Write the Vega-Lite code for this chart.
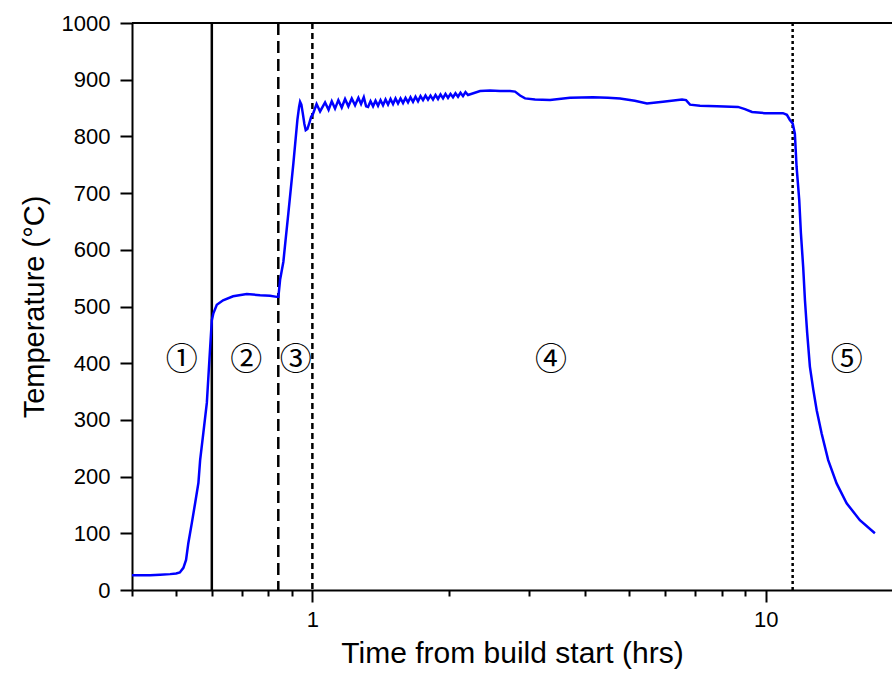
{
  "$schema": "https://vega.github.io/schema/vega-lite/v6.json",
  "width": 760,
  "height": 567,
  "autosize": {"type": "none"},
  "padding": {"left": 132, "top": 23, "right": 0, "bottom": 85},
  "background": "white",
  "config": {
    "view": {"stroke": null},
    "font": "Liberation Sans",
    "axis": {
      "domainColor": "black", "domainWidth": 2, "tickColor": "black", "tickWidth": 2,
      "labelColor": "black", "titleColor": "black", "labelFont": "Liberation Sans", "titleFont": "Liberation Sans",
      "labelFontSize": 22, "titleFontSize": 29, "titleFontWeight": "normal", "grid": false
    }
  },
  "datasets": {
    "temp": [
      {"t": 0.400, "temp": 26}, {"t": 0.4386, "temp": 26}, {"t": 0.4614, "temp": 27}, {"t": 0.4855, "temp": 28},
      {"t": 0.5005, "temp": 29}, {"t": 0.510, "temp": 31}, {"t": 0.5193, "temp": 39}, {"t": 0.5264, "temp": 53},
      {"t": 0.5326, "temp": 83}, {"t": 0.5420, "temp": 118}, {"t": 0.5512, "temp": 153}, {"t": 0.5605, "temp": 189},
      {"t": 0.5654, "temp": 229}, {"t": 0.5749, "temp": 278}, {"t": 0.585, "temp": 330}, {"t": 0.5927, "temp": 406},
      {"t": 0.600, "temp": 476}, {"t": 0.6048, "temp": 488}, {"t": 0.6154, "temp": 503}, {"t": 0.6353, "temp": 511},
      {"t": 0.6685, "temp": 518}, {"t": 0.7166, "temp": 522}, {"t": 0.7668, "temp": 520}, {"t": 0.8066, "temp": 519},
      {"t": 0.8346, "temp": 517}, {"t": 0.8414, "temp": 517}, {"t": 0.8487, "temp": 547}, {"t": 0.8630, "temp": 579},
      {"t": 0.8727, "temp": 617}, {"t": 0.8853, "temp": 665}, {"t": 0.9081, "temp": 753}, {"t": 0.9267, "temp": 829},
      {"t": 0.9347, "temp": 852}, {"t": 0.9394, "temp": 861}, {"t": 0.9456, "temp": 856}, {"t": 0.9523, "temp": 841},
      {"t": 0.9602, "temp": 822}, {"t": 0.9669, "temp": 811}, {"t": 0.9750, "temp": 813}, {"t": 0.9849, "temp": 824},
      {"t": 0.9934, "temp": 834}, {"t": 1.0036, "temp": 840},
      {"t": 1.0216, "temp": 857}, {"t": 1.0399, "temp": 844}, {"t": 1.0666, "temp": 860}, {"t": 1.0858, "temp": 847},
      {"t": 1.1035, "temp": 862}, {"t": 1.1220, "temp": 849}, {"t": 1.1410, "temp": 864}, {"t": 1.1609, "temp": 851},
      {"t": 1.1806, "temp": 866}, {"t": 1.2006, "temp": 853}, {"t": 1.2215, "temp": 867}, {"t": 1.2422, "temp": 855},
      {"t": 1.2632, "temp": 868}, {"t": 1.2806, "temp": 857}, {"t": 1.2985, "temp": 869}, {"t": 1.3138, "temp": 853},
      {"t": 1.3267, "temp": 852}, {"t": 1.3437, "temp": 862}, {"t": 1.3609, "temp": 853}, {"t": 1.3783, "temp": 863},
      {"t": 1.3959, "temp": 854}, {"t": 1.4137, "temp": 864}, {"t": 1.4318, "temp": 855}, {"t": 1.4501, "temp": 865},
      {"t": 1.4686, "temp": 856}, {"t": 1.4874, "temp": 866}, {"t": 1.5064, "temp": 857}, {"t": 1.5256, "temp": 867},
      {"t": 1.5451, "temp": 858}, {"t": 1.5648, "temp": 867}, {"t": 1.5848, "temp": 859}, {"t": 1.6051, "temp": 868},
      {"t": 1.6256, "temp": 860}, {"t": 1.6463, "temp": 869}, {"t": 1.6674, "temp": 861}, {"t": 1.6887, "temp": 870},
      {"t": 1.7103, "temp": 862}, {"t": 1.7321, "temp": 871}, {"t": 1.7542, "temp": 864}, {"t": 1.7766, "temp": 872},
      {"t": 1.7993, "temp": 865}, {"t": 1.8223, "temp": 872}, {"t": 1.8456, "temp": 865}, {"t": 1.8692, "temp": 873},
      {"t": 1.8931, "temp": 866}, {"t": 1.9173, "temp": 874}, {"t": 1.9418, "temp": 867}, {"t": 1.9666, "temp": 875},
      {"t": 1.9917, "temp": 868}, {"t": 2.0171, "temp": 875}, {"t": 2.0429, "temp": 869}, {"t": 2.0690, "temp": 876},
      {"t": 2.0955, "temp": 870}, {"t": 2.1223, "temp": 877}, {"t": 2.1494, "temp": 871}, {"t": 2.1769, "temp": 878},
      {"t": 2.2047, "temp": 873},
      {"t": 2.344, "temp": 880}, {"t": 2.466, "temp": 881}, {"t": 2.594, "temp": 880}, {"t": 2.729, "temp": 880},
      {"t": 2.800, "temp": 879}, {"t": 2.872, "temp": 872}, {"t": 2.946, "temp": 867}, {"t": 3.099, "temp": 865},
      {"t": 3.345, "temp": 864}, {"t": 3.702, "temp": 868}, {"t": 4.160, "temp": 869}, {"t": 4.489, "temp": 868},
      {"t": 4.772, "temp": 867}, {"t": 5.144, "temp": 863}, {"t": 5.472, "temp": 858}, {"t": 5.935, "temp": 861},
      {"t": 6.539, "temp": 865}, {"t": 6.674, "temp": 864}, {"t": 6.810, "temp": 856}, {"t": 7.164, "temp": 854},
      {"t": 7.809, "temp": 853}, {"t": 8.690, "temp": 852}, {"t": 9.001, "temp": 848}, {"t": 9.330, "temp": 843},
      {"t": 9.963, "temp": 841}, {"t": 10.92, "temp": 841}, {"t": 11.14, "temp": 838}, {"t": 11.31, "temp": 829},
      {"t": 11.47, "temp": 823}, {"t": 11.60, "temp": 805}, {"t": 11.70, "temp": 747}, {"t": 11.86, "temp": 688},
      {"t": 11.96, "temp": 630}, {"t": 12.10, "temp": 570}, {"t": 12.21, "temp": 511}, {"t": 12.35, "temp": 453},
      {"t": 12.52, "temp": 394}, {"t": 12.74, "temp": 353}, {"t": 12.96, "temp": 317}, {"t": 13.29, "temp": 276},
      {"t": 13.74, "temp": 229}, {"t": 14.34, "temp": 188}, {"t": 15.09, "temp": 153}, {"t": 16.14, "temp": 123},
      {"t": 17.42, "temp": 100}
    ],
    "bounds": [
      {"t": 0.6, "boundary": "a"}, {"t": 0.841, "boundary": "b"}, {"t": 1.0, "boundary": "c"}, {"t": 11.47, "boundary": "d"}
    ],
    "labels": [
      {"t": 0.515, "temp": 405, "label": "①"}, {"t": 0.7146, "temp": 405, "label": "②"},
      {"t": 0.9193, "temp": 405, "label": "③"}, {"t": 3.36, "temp": 405, "label": "④"},
      {"t": 15.09, "temp": 405, "label": "⑤"}
    ],
    "frame": [{"top": 1000}]
  },
  "layer": [
    {
      "data": {"name": "frame"},
      "mark": {"type": "rule", "color": "black", "strokeWidth": 2},
      "encoding": {"y": {"field": "top", "type": "quantitative"}}
    },
    {
      "data": {"name": "bounds"},
      "mark": {"type": "rule", "color": "black", "strokeWidth": 2.5},
      "encoding": {
        "x": {"field": "t", "type": "quantitative"},
        "strokeDash": {"field": "boundary", "type": "nominal", "legend": null,
          "scale": {"domain": ["a", "b", "c", "d"], "range": [[1, 0], [12, 6], [6, 4], [3, 3]]}}
      }
    },
    {
      "data": {"name": "temp"},
      "mark": {"type": "line", "color": "#0000ff", "strokeWidth": 2.5},
      "encoding": {
        "x": {"field": "t", "type": "quantitative",
          "scale": {"type": "log", "domain": [0.4, 19], "nice": false},
          "axis": {
            "title": "Time from build start (hrs)",
            "titleFontSize": 30,
            "values": [0.4, 0.5, 0.6, 0.7, 0.8, 0.9, 1, 2, 3, 4, 5, 6, 7, 8, 9, 10],
            "labelExpr": "datum.value == 1 || datum.value == 10 ? datum.label : ''",
            "format": "~g",
            "tickSize": {"condition": {"test": "datum.value == 1 || datum.value == 10", "value": 12}, "value": 6},
            "labelPadding": 7,
            "titlePadding": 8,
            "labelFlush": false,
            "labelOverlap": false
          }
        },
        "y": {"field": "temp", "type": "quantitative",
          "scale": {"domain": [0, 1000], "nice": false},
          "axis": {
            "title": "Temperature (°C)",
            "values": [0, 100, 200, 300, 400, 500, 600, 700, 800, 900, 1000],
            "format": "d",
            "tickSize": 12,
            "labelPadding": 10,
            "titlePadding": 12
          }
        }
      }
    },
    {
      "data": {"name": "labels"},
      "mark": {"type": "text", "font": "Noto Sans CJK JP", "fontSize": 32, "align": "center", "baseline": "middle", "color": "black"},
      "encoding": {
        "x": {"field": "t", "type": "quantitative"},
        "y": {"field": "temp", "type": "quantitative"},
        "text": {"field": "label", "type": "nominal"}
      }
    }
  ]
}
